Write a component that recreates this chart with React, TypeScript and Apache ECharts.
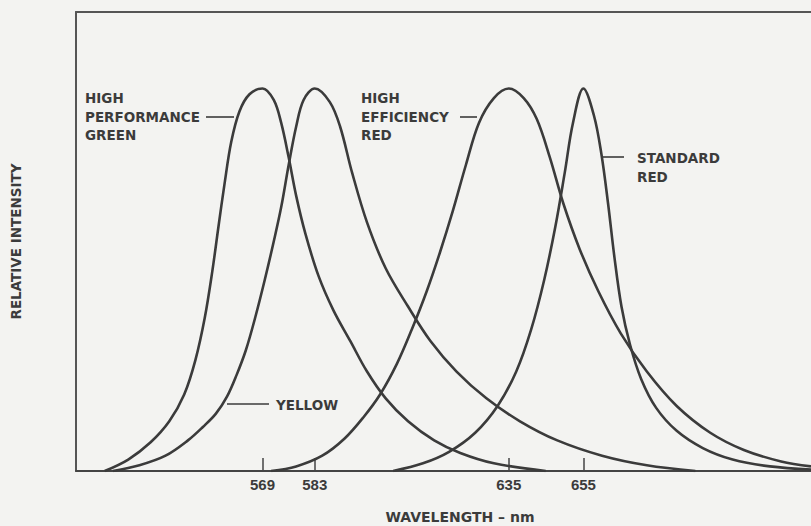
import React, { useEffect, useRef } from "react";
import * as echarts from "echarts";

// Peak wavelengths (nm) shown as tick labels
const wavelengthTicks: number[] = [569, 583, 635, 655];

// Relative intensity curves: [wavelength nm, relative intensity]
const highPerformanceGreen: [number, number][] = [
  [526.7, 0], [533, 0.03], [539, 0.075], [544, 0.13], [548, 0.2], [551, 0.29],
  [553.5, 0.4], [555.5, 0.52], [557.2, 0.64], [558.8, 0.75], [560.6, 0.86],
  [562.8, 0.94], [565.5, 0.985], [569, 1], [572, 0.97], [574, 0.91],
  [576, 0.82], [578, 0.72], [580.5, 0.62], [584, 0.51], [588, 0.42],
  [592.5, 0.34], [597, 0.26], [602, 0.19], [608, 0.13], [615, 0.08],
  [622, 0.047], [631, 0.02], [644.9, 0],
];

const yellow: [number, number][] = [
  [528.9, 0], [536, 0.015], [543, 0.04], [549, 0.08], [553, 0.115],
  [556.5, 0.15], [559.5, 0.195], [562, 0.25], [564.5, 0.315], [567, 0.4],
  [569.6, 0.5], [572, 0.6], [574, 0.69], [576, 0.8], [578, 0.9], [580, 0.97],
  [583, 1], [587, 0.965], [589.8, 0.9], [593, 0.78], [597, 0.65], [602, 0.53],
  [608, 0.43], [614, 0.34], [621, 0.26], [629, 0.19], [638, 0.13],
  [648, 0.08], [660, 0.04], [672, 0.015], [685, 0],
];

const highEfficiencyRed: [number, number][] = [
  [571.3, 0], [578, 0.012], [585, 0.04], [591, 0.085], [596, 0.14], [600.5, 0.2],
  [605, 0.28], [609, 0.37], [613, 0.47], [616.5, 0.57], [620, 0.68],
  [623.5, 0.8], [627, 0.91], [631, 0.975], [635, 1], [639, 0.975],
  [642.5, 0.92], [646, 0.82], [649.6, 0.7], [654, 0.58], [659, 0.47],
  [665, 0.36], [672, 0.26], [680, 0.17], [689, 0.1], [698, 0.055],
  [708, 0.025], [716, 0.012],
];

const standardRed: [number, number][] = [
  [604, 0], [612, 0.02], [619, 0.05], [626, 0.1], [632, 0.17], [637, 0.26],
  [641, 0.37], [644.5, 0.5], [647.5, 0.64], [650, 0.78], [652.2, 0.91],
  [655, 1], [657.8, 0.93], [659.8, 0.83], [661.6, 0.7], [663.3, 0.56],
  [665.2, 0.43], [667.5, 0.33], [670.5, 0.24], [674.5, 0.165], [680, 0.105],
  [687, 0.06], [695, 0.03], [705, 0.012], [716, 0.004],
];

const curveNames: string[] = [
  "High Performance Green",
  "Yellow",
  "High Efficiency Red",
  "Standard Red",
];

const X_MIN = 519;
const X_MAX = 716;

const INK = "#3b3b3b";
const FRAME = "#555";
const FONT = "DejaVu Sans";

export default function App() {
  const ref = useRef<HTMLDivElement>(null);

  useEffect(() => {
    if (!ref.current) return;
    const chart = echarts.init(ref.current, undefined, { renderer: "svg" });
    const curves = [highPerformanceGreen, yellow, highEfficiencyRed, standardRed];

    const label = (text: string, x: number, y: number, size = 13.5) => ({
      type: "text",
      x,
      y,
      silent: true,
      style: {
        text,
        fill: INK,
        fontFamily: FONT,
        fontWeight: "bold",
        fontSize: size,
        verticalAlign: "middle",
        align: "left",
      },
    });
    const pointer = (x1: number, x2: number, y: number) => ({
      type: "line",
      silent: true,
      shape: { x1, y1: y, x2, y2: y },
      style: { stroke: INK, lineWidth: 1.6 },
    });

    chart.setOption({
      animation: false,
      backgroundColor: "#f3f3f1",
      grid: {
        left: 76,
        right: 0,
        top: 12,
        bottom: 55,
        show: false,
      },
      xAxis: [
        {
          type: "value",
          min: X_MIN,
          max: X_MAX,
          position: "bottom",
          axisLine: { show: true, lineStyle: { color: "#444", width: 2 } },
          axisTick: {
            show: true,
            inside: true,
            length: 13,
            customValues: wavelengthTicks,
            lineStyle: { color: "#444", width: 1.5 },
          },
          axisLabel: {
            show: true,
            customValues: wavelengthTicks,
            margin: 6,
            color: INK,
            fontFamily: "Liberation Sans",
            fontWeight: "bold",
            fontSize: 15,
          },
          splitLine: { show: false },
        },
        {
          type: "value",
          min: X_MIN,
          max: X_MAX,
          position: "top",
          axisLine: { show: true, lineStyle: { color: FRAME, width: 2 } },
          axisTick: { show: false },
          axisLabel: { show: false },
          splitLine: { show: false },
        },
      ],
      yAxis: {
        type: "value",
        min: 0,
        max: 1.2,
        position: "left",
        name: "RELATIVE INTENSITY",
        nameLocation: "middle",
        nameRotate: 90,
        nameGap: 53,
        nameTextStyle: {
          color: INK,
          fontFamily: FONT,
          fontWeight: "bold",
          fontSize: 13.5,
        },
        axisLine: { show: true, lineStyle: { color: FRAME, width: 2 } },
        axisTick: { show: false },
        axisLabel: { show: false },
        splitLine: { show: false },
      },
      series: curves.map((data, i) => ({
        name: curveNames[i],
        type: "line",
        xAxisIndex: 0,
        data,
        showSymbol: false,
        smooth: 0.35,
        lineStyle: { color: INK, width: 2.6 },
        silent: true,
      })),
      graphic: [
        label("HIGH", 85, 98),
        label("PERFORMANCE", 85, 117),
        label("GREEN", 85, 135),
        pointer(206, 234, 117),
        label("HIGH", 361, 98),
        label("EFFICIENCY", 361, 117),
        label("RED", 361, 135),
        pointer(460, 477, 117),
        label("STANDARD", 637, 158),
        label("RED", 637, 177),
        pointer(603, 624, 157),
        label("YELLOW", 276, 405),
        pointer(227, 269, 404),
        {
          type: "text",
          x: 460,
          y: 517,
          silent: true,
          style: {
            text: "WAVELENGTH – nm",
            fill: INK,
            fontFamily: FONT,
            fontWeight: "bold",
            fontSize: 14,
            align: "center",
            verticalAlign: "middle",
          },
        },
      ],
    });
    return () => chart.dispose();
  }, []);

  return (
    <div
      ref={ref}
      style={{ position: "fixed", left: 0, top: 0, width: 811, height: 526 }}
    />
  );
}
